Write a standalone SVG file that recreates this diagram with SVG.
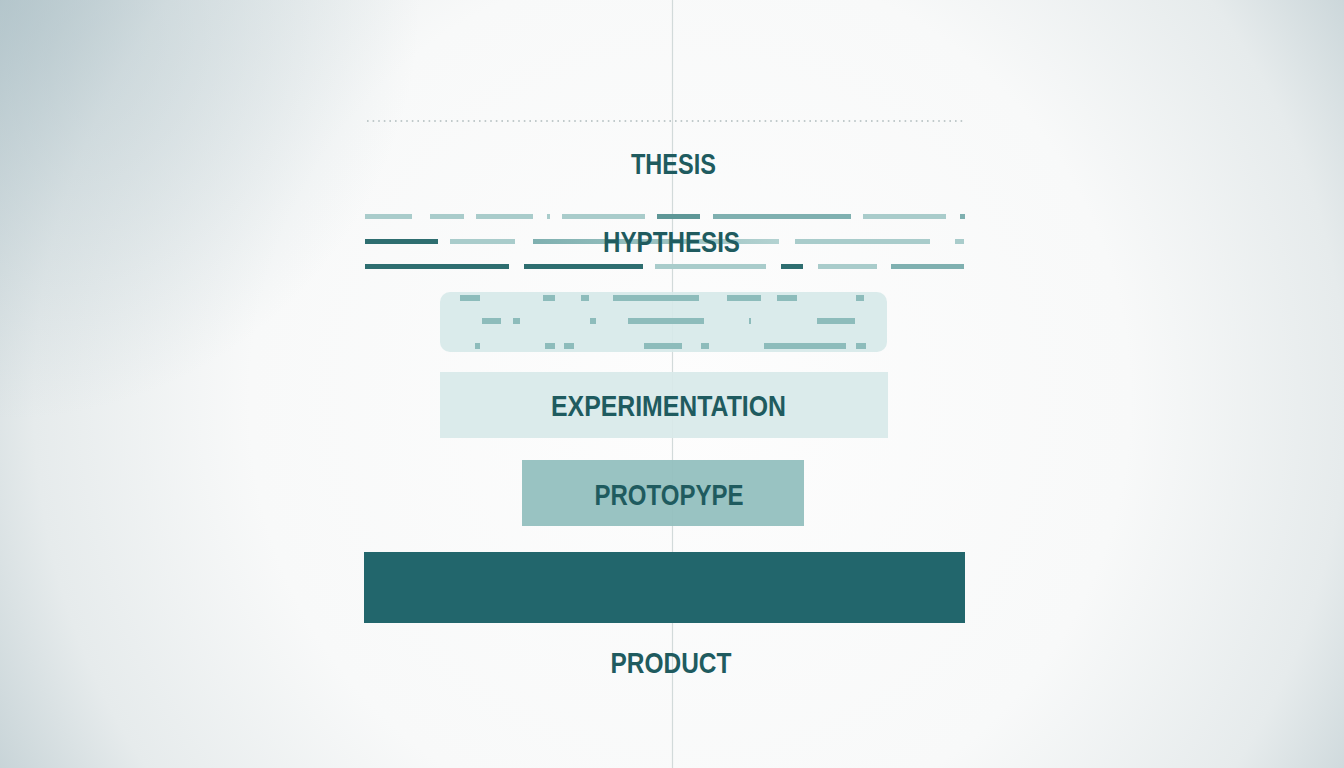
<svg xmlns="http://www.w3.org/2000/svg" width="1344" height="768" viewBox="0 0 1344 768">
  <defs>
    <radialGradient id="bg" gradientUnits="userSpaceOnUse" cx="690" cy="400" r="800">
      <stop offset="0" stop-color="#fdfdfd"/>
      <stop offset="0.55" stop-color="#f8f9f9"/>
      <stop offset="0.82" stop-color="#e6ebec"/>
      <stop offset="1" stop-color="#c4d1d5"/>
    </radialGradient>
    <radialGradient id="tl" gradientUnits="userSpaceOnUse" cx="0" cy="0" r="420">
      <stop offset="0" stop-color="#a9bec5" stop-opacity="0.6"/>
      <stop offset="1" stop-color="#a9bec5" stop-opacity="0"/>
    </radialGradient>
    <linearGradient id="fadeSeg" x1="0" y1="0" x2="1" y2="0">
      <stop offset="0" stop-color="#7fb0b0"/>
      <stop offset="1" stop-color="#b3d2d1"/>
    </linearGradient>
  </defs>
  <style>
    .lbl { font-family: "Liberation Sans", Arial, sans-serif; font-weight: bold; font-size: 30px; fill: #1f5b5f; text-anchor: middle; }
    .lt { fill: #a9cccb; }
    .md { fill: #7fb0b0; }
    .dk { fill: #2e6e70; }
    .bx { fill: #8dbcbb; }
  </style>
  <rect x="0" y="0" width="1344" height="768" fill="url(#bg)"/>
  <rect x="0" y="0" width="1344" height="768" fill="url(#tl)"/>

  <g id="connectors">
    <line x1="672.5" y1="0" x2="672.5" y2="768" stroke="#d2dada" stroke-width="1.2"/>
    <line x1="367" y1="121" x2="964" y2="121" stroke="#aebbbc" stroke-width="1.6" stroke-dasharray="1.6 4"/>
  </g>

  <g id="thesis">
    <text class="lbl" x="673.5" y="174" textLength="85" lengthAdjust="spacingAndGlyphs">THESIS</text>
  </g>

  <g id="hypothesis">
    <rect class="lt" x="365" y="214" width="47" height="5"/>
    <rect class="lt" x="430" y="214" width="34" height="5"/>
    <rect class="lt" x="476" y="214" width="57" height="5"/>
    <rect class="lt" x="547" y="214" width="3" height="5"/>
    <rect class="lt" x="562" y="214" width="83" height="5"/>
    <rect x="657" y="214" width="43" height="5" fill="#5e9797"/>
    <rect class="md" x="713" y="214" width="138" height="5"/>
    <rect class="lt" x="863" y="214" width="83" height="5"/>
    <rect class="md" x="960" y="214" width="5" height="5"/>

    <rect class="dk" x="365" y="239" width="73" height="5"/>
    <rect class="lt" x="450" y="239" width="65" height="5"/>
    <rect x="533" y="239" width="246" height="5" fill="url(#fadeSeg)"/>
    <rect class="lt" x="795" y="239" width="135" height="5"/>
    <rect class="lt" x="955" y="239" width="9" height="5"/>

    <rect class="dk" x="365" y="264" width="144" height="5"/>
    <rect class="dk" x="524" y="264" width="119" height="5"/>
    <rect class="lt" x="655" y="264" width="111" height="5"/>
    <rect class="dk" x="781" y="264" width="22" height="5"/>
    <rect class="lt" x="818" y="264" width="59" height="5"/>
    <rect class="md" x="891" y="264" width="73" height="5"/>

    <text class="lbl" x="671.5" y="252" textLength="137" lengthAdjust="spacingAndGlyphs">HYPTHESIS</text>
  </g>

  <g id="blurred-box">
    <rect x="440" y="292" width="447" height="60" rx="10" fill="#d6e9e9" fill-opacity="0.9"/>
    <rect class="bx" x="460" y="295" width="20" height="6"/>
    <rect class="bx" x="543" y="295" width="12" height="6"/>
    <rect class="bx" x="581" y="295" width="8" height="6"/>
    <rect class="bx" x="613" y="295" width="86" height="6"/>
    <rect class="bx" x="727" y="295" width="34" height="6"/>
    <rect class="bx" x="777" y="295" width="20" height="6"/>
    <rect class="bx" x="856" y="295" width="8" height="6"/>

    <rect class="bx" x="482" y="318" width="19" height="6"/>
    <rect class="bx" x="513" y="318" width="7" height="6"/>
    <rect class="bx" x="590" y="318" width="6" height="6"/>
    <rect class="bx" x="628" y="318" width="76" height="6"/>
    <rect class="bx" x="749" y="318" width="2" height="6"/>
    <rect class="bx" x="817" y="318" width="38" height="6"/>

    <rect class="bx" x="475" y="343" width="5" height="6"/>
    <rect class="bx" x="545" y="343" width="10" height="6"/>
    <rect class="bx" x="564" y="343" width="10" height="6"/>
    <rect class="bx" x="644" y="343" width="38" height="6"/>
    <rect class="bx" x="701" y="343" width="8" height="6"/>
    <rect class="bx" x="764" y="343" width="82" height="6"/>
    <rect class="bx" x="856" y="343" width="10" height="6"/>
  </g>

  <g id="experimentation">
    <rect x="440" y="372" width="448" height="66" fill="#d8e9e9" fill-opacity="0.92"/>
    <text class="lbl" x="668.5" y="416" textLength="235" lengthAdjust="spacingAndGlyphs">EXPERIMENTATION</text>
  </g>

  <g id="prototype">
    <rect x="522" y="460" width="282" height="66" fill="#93c0bf" fill-opacity="0.95"/>
    <text class="lbl" x="669" y="505" textLength="149" lengthAdjust="spacingAndGlyphs">PROTOPYPE</text>
  </g>

  <g id="product">
    <rect x="364" y="552" width="601" height="71" fill="#22666c"/>
    <text class="lbl" x="671" y="673" textLength="121" lengthAdjust="spacingAndGlyphs">PRODUCT</text>
  </g>
</svg>
